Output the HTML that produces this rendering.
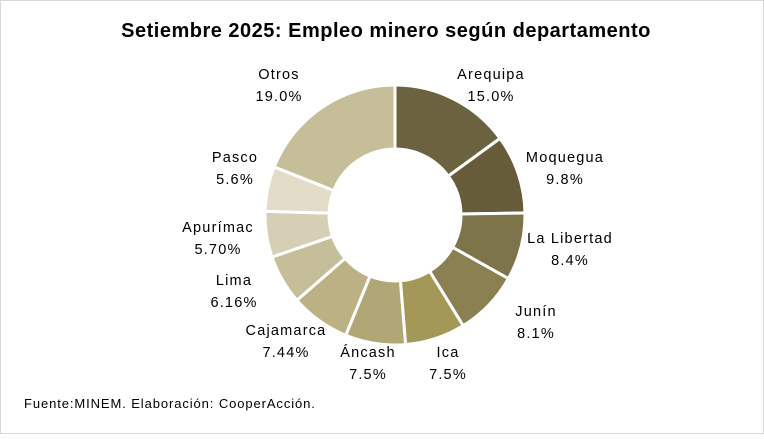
<!DOCTYPE html>
<html><head><meta charset="utf-8"><style>
html,body{margin:0;padding:0;background:#fff}
svg text{font-family:"Liberation Sans",Calibri,sans-serif;fill:#000}
</style></head><body>
<svg id="s" width="764" height="434" viewBox="0 0 764 434" xmlns="http://www.w3.org/2000/svg">
<rect x="0.5" y="0.5" width="763" height="433" fill="#fff" stroke="#d9d9d9"/>
<text x="386" y="37" text-anchor="middle" font-size="20" font-weight="bold" letter-spacing="0.5">Setiembre 2025: Empleo minero según departamento</text>
<g id="d"></g>
<g font-size="14.5" text-anchor="middle" letter-spacing="1.2">
<text x="491" y="79">Arequipa</text><text x="491" y="101">15.0%</text>
<text x="565" y="162">Moquegua</text><text x="565" y="184">9.8%</text>
<text x="570" y="243">La Libertad</text><text x="570" y="265">8.4%</text>
<text x="536" y="316">Junín</text><text x="536" y="338">8.1%</text>
<text x="448" y="357">Ica</text><text x="448" y="379">7.5%</text>
<text x="368" y="357">Áncash</text><text x="368" y="379">7.5%</text>
<text x="286" y="335">Cajamarca</text><text x="286" y="357">7.44%</text>
<text x="234" y="285">Lima</text><text x="234" y="307">6.16%</text>
<text x="218" y="232">Apurímac</text><text x="218" y="254">5.70%</text>
<text x="235" y="162">Pasco</text><text x="235" y="184">5.6%</text>
<text x="279" y="79">Otros</text><text x="279" y="101">19.0%</text>
</g>
<text x="24" y="408" font-size="13" letter-spacing="0.9">Fuente:MINEM. Elaboración: CooperAcción.</text>
</svg>
<script>
var v=[15.0,9.8,8.4,8.1,7.5,7.5,7.44,6.16,5.70,5.6,19.0];
var c=["#6b6240","#665c3a","#7d7449","#8a8051","#a39858","#b0a676","#bcb184","#c6be98","#d6cfb6","#e2dcc8","#c6be98"];
var t=v.reduce(function(a,b){return a+b},0),cx=395,cy=215,R=130,r=66,a=0,h="";
function p(ang,rad){return (cx+rad*Math.sin(ang)).toFixed(2)+" "+(cy-rad*Math.cos(ang)).toFixed(2);}
for(var i=0;i<v.length;i++){var b=a+v[i]/t*2*Math.PI,l=(b-a)>Math.PI?1:0;
h+='<path d="M'+p(a,R)+' A'+R+' '+R+' 0 '+l+' 1 '+p(b,R)+' L'+p(b,r)+' A'+r+' '+r+' 0 '+l+' 0 '+p(a,r)+' Z" fill="'+c[i]+'" stroke="#fff" stroke-width="3"/>';a=b;}
document.getElementById("d").innerHTML=h;
</script>
</body></html>
